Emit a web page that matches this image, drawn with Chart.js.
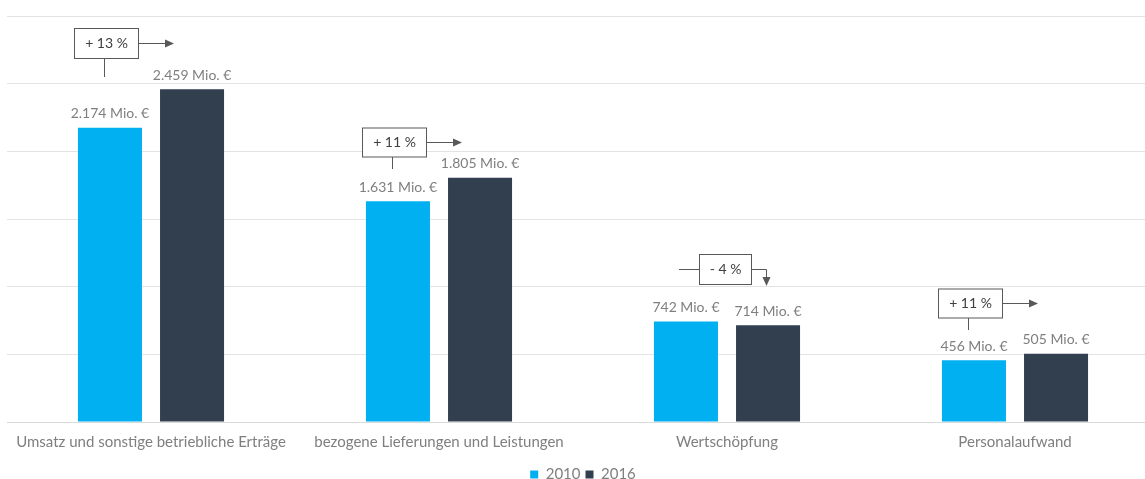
<!DOCTYPE html>
<html>
<head>
<meta charset="utf-8">
<script src="https://cdn.jsdelivr.net/npm/chart.js@4/dist/chart.umd.min.js"></script>
<style>
  html, body { margin: 0; padding: 0; background: #ffffff; overflow: hidden; }
  #wrap { position: absolute; left: 0; top: 0; width: 1160px; height: 479px; }
</style>
</head>
<body>
<div id="wrap"><canvas id="c" width="1160" height="479"></canvas></div>
<script>
// ---- data ----
const categories = [
  'Umsatz und sonstige betriebliche Erträge',
  'bezogene Lieferungen und Leistungen',
  'Wertschöpfung',
  'Personalaufwand'
];
const seriesNames = ['2010', '2016'];
const values2010 = [2174, 1631, 742, 456];
const values2016 = [2459, 1805, 714, 505];
const changeLabels = ['+ 13 %', '+ 11 %', '- 4 %', '+ 11 %'];
const changeDirections = ['up', 'up', 'down', 'up'];
const yMax = 3000;
const yStep = 500;

// ---- styles ----
const FONT = 'Lato, "Open Sans", sans-serif';
const COLORS = ['#00B0F0', '#323F4F'];
const TEXT_GRAY = '#7f7f7f';
const LINE_GRAY = '#595959';

// annotation placement (value-space anchors, not data)
const annoLayout = [
  { boxY: 2800, stemTo: 2547, h: 30, w: 64 },
  { boxY: 2068, stemTo: 1871, h: 29, w: 64 },
  { boxY: 1129, arrowTo: 1002, h: 30, w: 52 },
  { boxY: 880,  stemTo: 683,  h: 29, w: 64 }
];

function fmt(v) {
  const s = String(v);
  const t = s.length > 3 ? s.slice(0, s.length - 3) + '.' + s.slice(s.length - 3) : s;
  return t + ' Mio. €';
}

const valueLabels = {
  id: 'valueLabels',
  afterDatasetsDraw(chart) {
    const ctx = chart.ctx;
    ctx.save();
    ctx.font = '14px ' + FONT;
    ctx.fillStyle = TEXT_GRAY;
    ctx.textAlign = 'center';
    ctx.textBaseline = 'middle';
    chart.data.datasets.forEach((ds, di) => {
      const meta = chart.getDatasetMeta(di);
      meta.data.forEach((bar, i) => {
        ctx.fillText(fmt(ds.data[i]), bar.x, bar.y - 14);
      });
    });
    ctx.restore();
  }
};

function arrowHead(ctx, x, y, dir) {
  ctx.beginPath();
  if (dir === 'right') {
    ctx.moveTo(x, y); ctx.lineTo(x - 9, y - 4); ctx.lineTo(x - 9, y + 4);
  } else {
    ctx.moveTo(x, y); ctx.lineTo(x - 4, y - 9); ctx.lineTo(x + 4, y - 9);
  }
  ctx.closePath();
  ctx.fill();
}

const changeBoxes = {
  id: 'changeBoxes',
  afterDatasetsDraw(chart) {
    const ctx = chart.ctx;
    const ys = chart.scales.y;
    const m0 = chart.getDatasetMeta(0), m1 = chart.getDatasetMeta(1);
    ctx.save();
    ctx.strokeStyle = LINE_GRAY;
    ctx.fillStyle = LINE_GRAY;
    ctx.lineWidth = 1;
    changeLabels.forEach((lbl, i) => {
      const L = annoLayout[i];
      const b0 = m0.data[i], b1 = m1.data[i];
      const cy = Math.round(ys.getPixelForValue(L.boxY)) + 0.5;
      let cx;
      if (changeDirections[i] === 'up') {
        cx = Math.round(b0.x - 4);
        const left = cx - L.w / 2, top = cy - L.h / 2;
        const sx = cx - 1.5;
        ctx.beginPath();
        ctx.moveTo(sx, top + L.h);
        ctx.lineTo(sx, Math.round(ys.getPixelForValue(L.stemTo)));
        ctx.stroke();
        ctx.beginPath();
        ctx.moveTo(left + L.w, cy);
        ctx.lineTo(left + L.w + 34, cy);
        ctx.stroke();
        arrowHead(ctx, left + L.w + 36, cy, 'right');
        ctx.fillStyle = '#ffffff';
        ctx.fillRect(left + 0.5, top, L.w, L.h);
        ctx.strokeRect(left + 0.5, top, L.w, L.h);
      } else {
        cx = Math.round((b0.x + b1.x) / 2 - 2);
        const left = cx - L.w / 2, top = cy - L.h / 2;
        ctx.beginPath();
        ctx.moveTo(b0.x - 7, cy);
        ctx.lineTo(left, cy);
        ctx.stroke();
        const ax = Math.round(b1.x - 2) + 0.5;
        const ay = Math.round(ys.getPixelForValue(L.arrowTo));
        ctx.beginPath();
        ctx.moveTo(left + L.w, cy);
        ctx.lineTo(ax, cy);
        ctx.lineTo(ax, ay - 6);
        ctx.stroke();
        arrowHead(ctx, ax, ay, 'down');
        ctx.fillStyle = '#ffffff';
        ctx.fillRect(left + 0.5, top, L.w, L.h);
        ctx.strokeRect(left + 0.5, top, L.w, L.h);
      }
      ctx.fillStyle = '#404040';
      ctx.font = '14px ' + FONT;
      ctx.textAlign = 'center';
      ctx.textBaseline = 'middle';
      ctx.fillText(lbl, cx + 0.5, cy);
      ctx.fillStyle = LINE_GRAY;
    });
    ctx.restore();
  }
};

new Chart(document.getElementById('c'), {
  type: 'bar',
  data: {
    labels: categories,
    datasets: [
      { label: seriesNames[0], data: values2010, backgroundColor: COLORS[0], borderWidth: 0 },
      { label: seriesNames[1], data: values2016, backgroundColor: COLORS[1], borderWidth: 0 }
    ]
  },
  options: {
    responsive: false,
    devicePixelRatio: 1,
    animation: false,
    categoryPercentage: 0.57,
    barPercentage: 0.78,
    layout: { padding: { top: 16, left: 7, right: 1, bottom: -13 } },
    plugins: {
      tooltip: { enabled: false },
      legend: {
        position: 'bottom',
        labels: {
          font: { family: FONT, size: 15 },
          color: TEXT_GRAY,
          boxWidth: 8,
          boxHeight: 8,
          padding: 5
        }
      }
    },
    scales: {
      x: {
        grid: { display: false, drawTicks: false },
        border: { display: true, color: '#d9d9d9', width: 1 },
        ticks: { font: { family: FONT, size: 15 }, color: TEXT_GRAY, padding: 11, maxRotation: 0, autoSkip: false }
      },
      y: {
        min: 0,
        max: yMax,
        ticks: { display: false, stepSize: yStep },
        grid: { color: '#e3e3e3', drawTicks: false },
        border: { display: false }
      }
    }
  },
  plugins: [valueLabels, changeBoxes]
});
</script>
</body>
</html>
